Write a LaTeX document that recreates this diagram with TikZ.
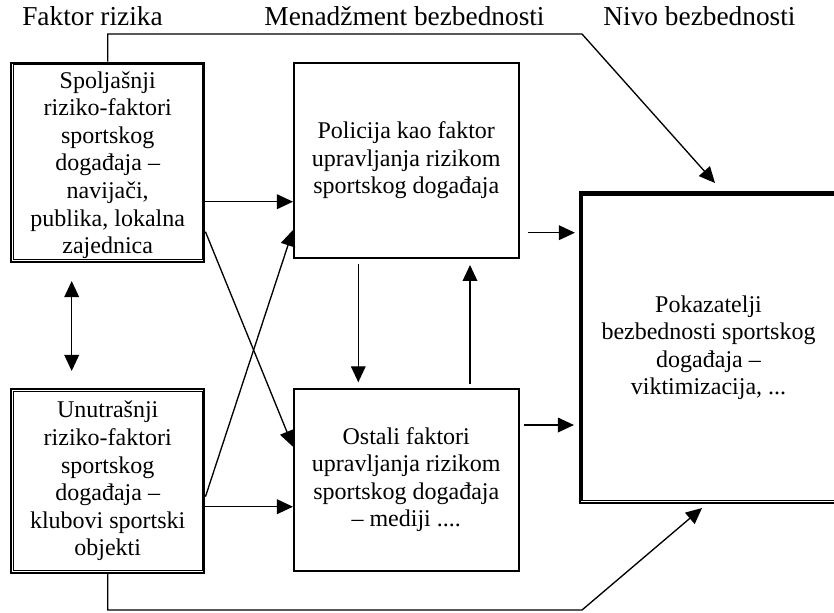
\documentclass[tikz,border=0pt]{standalone}
\usepackage{fontspec}
\setmainfont{Liberation Serif}
\usetikzlibrary{arrows.meta}
\begin{document}
\begin{tikzpicture}[x=0.75pt,y=-0.75pt,
  arr/.style={line width=1pt,-{Triangle[length=12pt,width=11pt]}},
  dblarr/.style={line width=1pt,{Triangle[length=12pt,width=11pt]}-{Triangle[length=12pt,width=11pt]}},
  boxtext/.style={font=\fontsize{18}{20.7}\selectfont, align=center, inner sep=0pt},
  singlebox/.style={boxtext, draw, line width=1.5pt},
  dblbox/.style={boxtext, draw, line width=1.6pt},
  innerline/.style={line width=0.9pt},
  toplabel/.style={font=\fontsize{20.5}{24}\selectfont, inner sep=0pt, anchor=base}
]
\useasboundingbox (0,0) rectangle (834,612);

% top labels
\node[toplabel] (l1) at (92.5,25) {Faktor rizika};
\node[toplabel] (l2) at (404.5,25) {Menadžment bezbednosti};
\node[toplabel] (l3) at (699.5,25) {Nivo bezbednosti};

% boxes
\node[dblbox, minimum width=145pt, minimum height=149.5pt] (A) at (107.7,162.3) {};
\node[boxtext] (At) at (107.7,165)
  {Spoljašnji\\riziko-faktori\\sportskog\\događaja –\\navijači,\\publika, lokalna\\zajednica};
\draw[innerline] ([shift={(3.3,3.3)}]A.north west) rectangle ([shift={(-3.3,-3.3)}]A.south east);

\node[dblbox, minimum width=145pt, minimum height=137.5pt] (B) at (107.7,481)
  {Unutrašnji\\riziko-faktori\\sportskog\\događaja –\\klubovi sportski\\objekti};
\draw[innerline] ([shift={(3.3,3.3)}]B.north west) rectangle ([shift={(-3.3,-3.3)}]B.south east);

\node[singlebox, minimum width=168.4pt, minimum height=146.6pt] (C) at (406.25,160.25)
  {Policija kao faktor\\upravljanja rizikom\\sportskog događaja};

\node[singlebox, minimum width=168.4pt, minimum height=136.5pt] (D) at (406.25,479.5)
  {Ostali faktori\\upravljanja rizikom\\sportskog događaja\\– mediji ....};

\node[dblbox, minimum width=192.75pt, minimum height=232.9pt] (E) at (708.5,347.75)
  {Pokazatelji\\bezbednosti sportskog\\događaja –\\viktimizacija, ...};
\draw[innerline] ([shift={(3,3.5)}]E.north west) rectangle ([shift={(-3,-3.5)}]E.south east);

% level coordinates
\coordinate (yAC) at (0,201.7);
\coordinate (yBD) at (0,506.7);
\coordinate (yAD1) at (0,231.7);
\coordinate (yAD2) at (0,446.7);
\coordinate (yBC1) at (0,496.7);
\coordinate (yBC2) at (0,230);
\coordinate (yCE) at (0,232.7);
\coordinate (yDE) at (0,425);
\coordinate (xCD) at (358.3,0);
\coordinate (xDC) at (470,0);
\coordinate (xAB) at (71.7,0);

% connectors
\draw[arr] (A.east |- yAC) -- (C.west |- yAC);
\draw[arr] (B.east |- yBD) -- (D.west |- yBD);
\draw[arr] (A.east |- yAD1) -- (D.west |- yAD2);
\draw[arr] (B.east |- yBC1) -- (C.west |- yBC2);
\draw[arr, shorten <=6.15pt, shorten >=3pt] (C.east |- yCE) -- (E.west |- yCE);
\draw[arr, shorten <=3.15pt, shorten >=3.75pt] (D.east |- yDE) -- (E.west |- yDE);
\draw[arr, shorten <=4pt, shorten >=3.9pt] (C.south -| xCD) -- (D.north -| xCD);
\draw[arr, shorten <=2.6pt, shorten >=4.5pt] (D.north -| xDC) -- (C.south -| xDC);
\draw[dblarr, shorten <=13.5pt, shorten >=13pt] (A.south -| xAB) -- (B.north -| xAB);

\coordinate (t1) at (582,34);
\coordinate (t2) at (715,183);
\draw[arr] (A.north) |- (t1) -- (t2);
\coordinate (b1) at (582,610);
\coordinate (b2) at (702,508);
\draw[arr] (B.south) |- (b1) -- (b2);
\end{tikzpicture}
\end{document}
